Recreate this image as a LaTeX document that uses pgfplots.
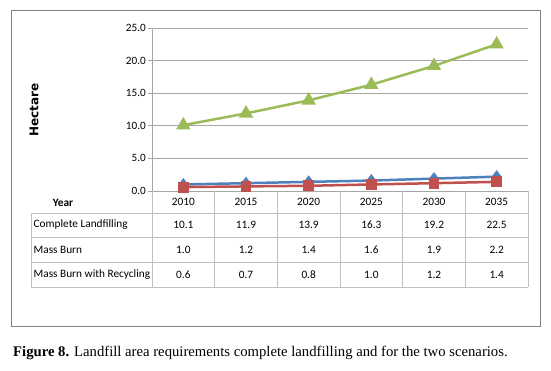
\documentclass[border=0pt]{standalone}
\usepackage{pgfplots}
\pgfplotsset{compat=1.18}
\usepackage{fontspec}
\setmainfont{Carlito}
\newfontfamily\timesf{Liberation Serif}
\newfontfamily\dejavu{DejaVu Sans}
\definecolor{cgreen}{HTML}{9BBB59}
\definecolor{cblue}{HTML}{4F81BD}
\definecolor{cred}{HTML}{C0504D}
\definecolor{gridc}{HTML}{A6A6A6}
\definecolor{tabc}{HTML}{BFBFBF}
\begin{document}
\begin{tikzpicture}[x=1pt,y=1pt]
\useasboundingbox (0,0) rectangle (551,371);
\draw[draw=gray, line width=1pt] (11.5,44) rectangle (540,360);
\begin{axis}[at={(152pt,180pt)}, anchor=south west, scale only axis,
  width=376pt, height=163pt, xmin=-0.5, xmax=5.5, ymin=0, ymax=25,
  axis x line*=bottom, axis y line*=left,
  axis line style={-, draw=gridc, line width=0.8pt},
  xtick=\empty, ytick={0,5,...,25}, tick align=outside, major tick length=4pt,
  ytick style={draw=gridc, line width=0.8pt},
  ymajorgrids, grid style={draw=gridc, line width=0.8pt},
  yticklabel style={/pgf/number format/.cd, fixed, fixed zerofill, precision=1, assume math mode=true},
  ticklabel style={font=\fontsize{11.2}{13}\selectfont, inner sep=2pt},
  clip=false]
\addplot[cgreen, line width=2.5pt, mark=triangle*, mark size=5.8pt, mark options={solid}] coordinates {(0,10.1) (1,11.9) (2,13.9) (3,16.3) (4,19.2) (5,22.5)};
\addplot[cblue, line width=2.5pt, mark=diamond*, mark size=4.5pt] coordinates {(0,1.0) (1,1.2) (2,1.4) (3,1.6) (4,1.9) (5,2.2)};
\addplot[cred, line width=2.5pt, mark=square*, mark size=4.2pt] coordinates {(0,0.6) (1,0.7) (2,0.8) (3,1.0) (4,1.2) (5,1.4)};
\end{axis}
% y axis title
\node[rotate=90, font=\dejavu\bfseries\fontsize{12}{14}\selectfont] at (34,261) {Hectare};
% table grid
\foreach \k in {0,...,6} { \draw[tabc, line width=0.8pt] ({152+62.667*\k},180) -- ({152+62.667*\k},84); }
\foreach \yy in {158,134,109,84} { \draw[tabc, line width=0.8pt] (31,\yy) -- (528,\yy); }
\draw[tabc, line width=0.8pt] (31,158) -- (31,84);
\def\fs{\fontsize{11.3}{13}\selectfont}
\node[font=\fs\bfseries] at (63,168) {Year};
\node[anchor=west, font=\fs, inner sep=1.5pt] at (32,146) {Complete Landfilling};
\node[anchor=west, font=\fs, inner sep=1.5pt] at (32,121) {Mass Burn};
\node[anchor=west, font=\fs, inner sep=1.5pt] at (32,96.5) {Mass Burn with Recycling};
\foreach \yr [count=\i from 0] in {2010,2015,2020,2025,2030,2035} { \node[font=\fs] at ({183.33+62.667*\i},169) {\yr}; }
\foreach \v [count=\i from 0] in {10.1,11.9,13.9,16.3,19.2,22.5} { \node[font=\fs] at ({183.33+62.667*\i},146) {\v}; }
\foreach \v [count=\i from 0] in {1.0,1.2,1.4,1.6,1.9,2.2} { \node[font=\fs] at ({183.33+62.667*\i},121) {\v}; }
\foreach \v [count=\i from 0] in {0.6,0.7,0.8,1.0,1.2,1.4} { \node[font=\fs] at ({183.33+62.667*\i},96.5) {\v}; }
% caption
\node[anchor=base west, inner sep=0pt, font=\timesf\fontsize{14.7}{17}\selectfont] at (13,14.3) {\textbf{Figure 8.} Landfill area requirements complete landfilling and for the two scenarios.};
\end{tikzpicture}
\end{document}
